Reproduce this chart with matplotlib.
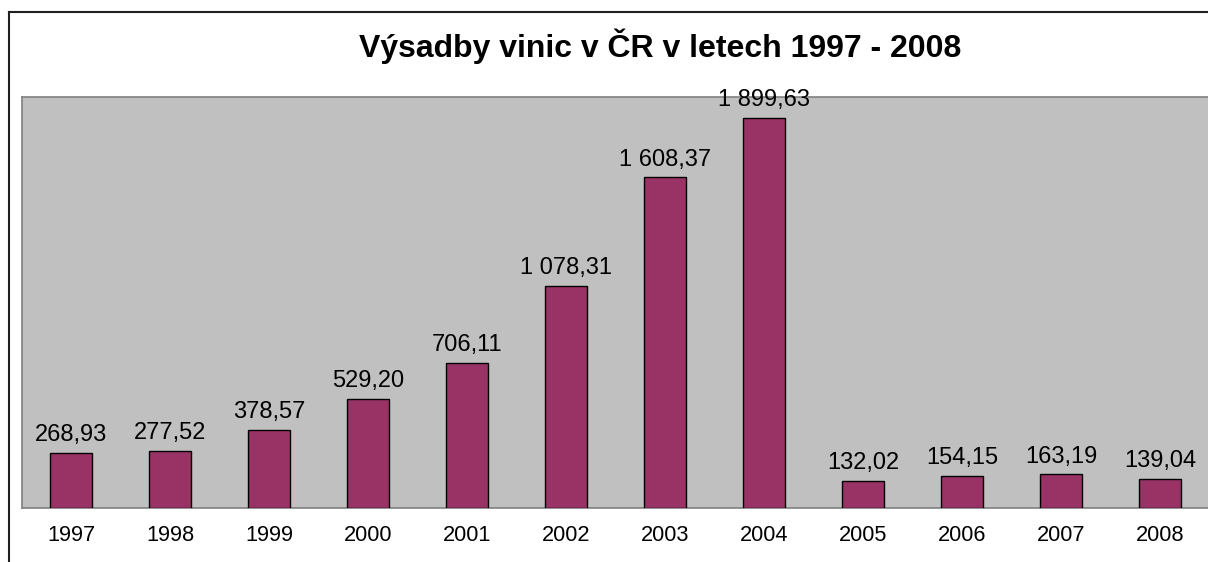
import matplotlib
matplotlib.use("Agg")
import matplotlib.pyplot as plt
from matplotlib.lines import Line2D

years = ["1997", "1998", "1999", "2000", "2001", "2002", "2003", "2004",
         "2005", "2006", "2007", "2008"]
values = [268.93, 277.52, 378.57, 529.20, 706.11, 1078.31, 1608.37, 1899.63,
          132.02, 154.15, 163.19, 139.04]
title = "Výsadby vinic v ČR v letech 1997 - 2008"

plt.rcParams['font.family'] = ['Liberation Sans', 'DejaVu Sans']

W, H = 1208, 562
fig = plt.figure(figsize=(W / 100, H / 100), dpi=100)
fig.patch.set_facecolor('white')

# plot area in pixels
left, right, top, bottom = 21.5, 1209.5, 97, 508
ax = fig.add_axes([left / W, (H - bottom) / H, (right - left) / W, (bottom - top) / H])
ax.set_facecolor('#C0C0C0')

x = list(range(len(years)))
ax.bar(x, values, width=0.42, color='#993366', edgecolor='black', linewidth=1.0, zorder=3)
ax.set_xlim(-0.5, len(years) - 0.5)
ax.set_ylim(0, 2000)
ax.set_yticks([])
ax.set_xticks(x)
ax.set_xticklabels(years, fontsize=15.7)
ax.tick_params(axis='x', length=0, pad=12)
for s in ax.spines.values():
    s.set_color('#808080')
    s.set_linewidth(1.2)


def fmt(v):
    s = f"{v:,.2f}"
    return s.replace(",", " ").replace(".", ",")


for xi, v in zip(x, values):
    ax.annotate(fmt(v), (xi, v), xytext=(0, 5), textcoords='offset points',
                ha='center', va='bottom', fontsize=17, color='black',
                annotation_clip=False, zorder=4)

fig.text(660 / W, 1 - 56.7 / H, title, ha='center', va='baseline',
         fontsize=23, fontweight='bold')

# outer chart frame (extends beyond the picture on right and bottom)
fig.add_artist(Line2D([8.5 / W, 8.5 / W], [0, 1 - 11.5 / H], transform=fig.transFigure,
                      color='#202020', linewidth=1.5))
fig.add_artist(Line2D([8.5 / W, 1], [1 - 11.5 / H, 1 - 11.5 / H], transform=fig.transFigure,
                      color='#202020', linewidth=1.5))

fig.savefig("out.png", dpi=100)
